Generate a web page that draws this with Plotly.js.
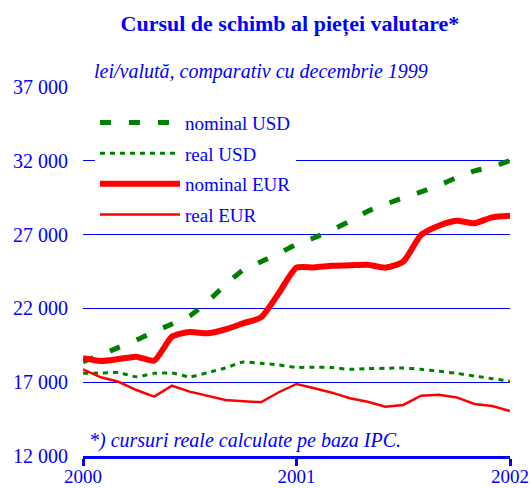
<!DOCTYPE html>
<html>
<head>
<meta charset="utf-8">
<script src="https://cdn.plot.ly/plotly-3.0.1.min.js"></script>
<style>html,body{margin:0;padding:0;background:#fff;}#chart{width:532px;height:488px;}</style>
</head>
<body>
<div id="chart"></div>
<script>
// months Jan 2000 .. Jan 2002 (index 0..24)
const months = Array.from({length: 25}, (_, i) => i);
const xTickVals = [0, 12, 24];
const xTickText = ['2000', '2001', '2002'];
const yTickVals = [12000, 17000, 22000, 27000, 32000, 37000];
const yTickText = ['12 000', '17 000', '22 000', '27 000', '32 000', '37 000'];

const seriesNames = ['nominal USD', 'real USD', 'nominal EUR', 'real EUR'];

const nominalUSD = [18390, 18840, 19360, 19860, 20420, 20940, 21490, 22460, 23590, 24600, 25160, 25730, 26340,
  26790, 27310, 27920, 28580, 29050, 29500, 29890, 30340, 30860, 31310, 31600, 32010];
const realUSD = [17600, 17620, 17650, 17370, 17600, 17620, 17370, 17650, 17960, 18370, 18280, 18165, 18010,
  18010, 17990, 17870, 17920, 17940, 17960, 17870, 17740, 17600, 17420, 17240, 17060];
const nominalEUR = [18620, 18440, 18570, 18730, 18460, 20080, 20400, 20310, 20580, 20990, 21390, 23020, 24760,
  24780, 24890, 24920, 24960, 24760, 25170, 26970, 27600, 27940, 27770, 28170, 28280];
const realEUR = [17870, 17330, 17030, 16470, 16020, 16760, 16360, 16070, 15790, 15710, 15640, 16320, 16880,
  16590, 16290, 15910, 15680, 15340, 15460, 16090, 16150, 15970, 15520, 15390, 15050];

const BLUE = '#0000ff';
const SERIF = "'Liberation Serif', 'Times New Roman', serif";

const traces = [
  {x: months, y: nominalUSD, name: seriesNames[0], legendgroup: 'a', mode: 'lines',
   line: {color: '#008000', width: 5, dash: '11px,18px', shape: 'spline', smoothing: 0.6}},
  {x: months, y: realUSD, name: seriesNames[1], legendgroup: 'b', mode: 'lines',
   line: {color: '#008000', width: 3, dash: '5px,5px', shape: 'spline', smoothing: 0.6}},
  {x: months, y: nominalEUR, name: seriesNames[2], legendgroup: 'c', mode: 'lines',
   line: {color: '#ff0000', width: 6, shape: 'spline', smoothing: 0.6}},
  {x: months, y: realEUR, name: seriesNames[3], legendgroup: 'd', mode: 'lines',
   line: {color: '#ff0000', width: 2.5}}
];

const layout = {
  width: 532, height: 488,
  margin: {l: 83, r: 22, t: 87, b: 32},
  paper_bgcolor: '#ffffff', plot_bgcolor: '#ffffff',
  font: {family: SERIF, color: BLUE},
  title: {text: '<b>Cursul de schimb al pieței valutare*</b>', font: {family: SERIF, size: 22, color: BLUE},
    x: 0.545, xanchor: 'center', y: 0.952, yanchor: 'middle'},
  showlegend: true,
  legend: {x: 0.028, xanchor: 'left', y: 0.955, yanchor: 'top', bgcolor: '#ffffff',
    font: {family: SERIF, size: 19, color: BLUE}, itemwidth: 80, tracegroupgap: 3,
    traceorder: 'grouped'},
  xaxis: {range: [0, 24], tickvals: xTickVals, ticktext: xTickText, showgrid: false, zeroline: false,
    showline: true, linecolor: BLUE, linewidth: 3, ticks: 'outside', ticklen: 7, tickwidth: 3, tickcolor: BLUE,
    ticklabelstandoff: -6,
    tickfont: {family: SERIF, size: 19, color: BLUE}, fixedrange: true},
  yaxis: {range: [12000, 37000], tickvals: yTickVals, ticktext: yTickText, showgrid: true, gridcolor: BLUE,
    gridwidth: 1, zeroline: false, showline: false, ticks: '', ticklabelstandoff: 14,
    tickfont: {family: SERIF, size: 20, color: BLUE}, fixedrange: true},
  annotations: [
    {text: '<i>lei/valută, comparativ cu decembrie 1999</i>', xref: 'paper', yref: 'paper', x: 0.02, y: 1.005,
     xanchor: 'left', yanchor: 'bottom', showarrow: false, font: {family: SERIF, size: 20, color: BLUE}},
    {text: '<i>*) cursuri reale calculate pe baza IPC.</i>', xref: 'paper', yref: 'paper', x: 0.01, y: 0.005,
     xanchor: 'left', yanchor: 'bottom', showarrow: false, font: {family: SERIF, size: 20, color: BLUE}}
  ]
};

Plotly.newPlot('chart', traces, layout, {displayModeBar: false, staticPlot: true});
</script>
</body>
</html>
